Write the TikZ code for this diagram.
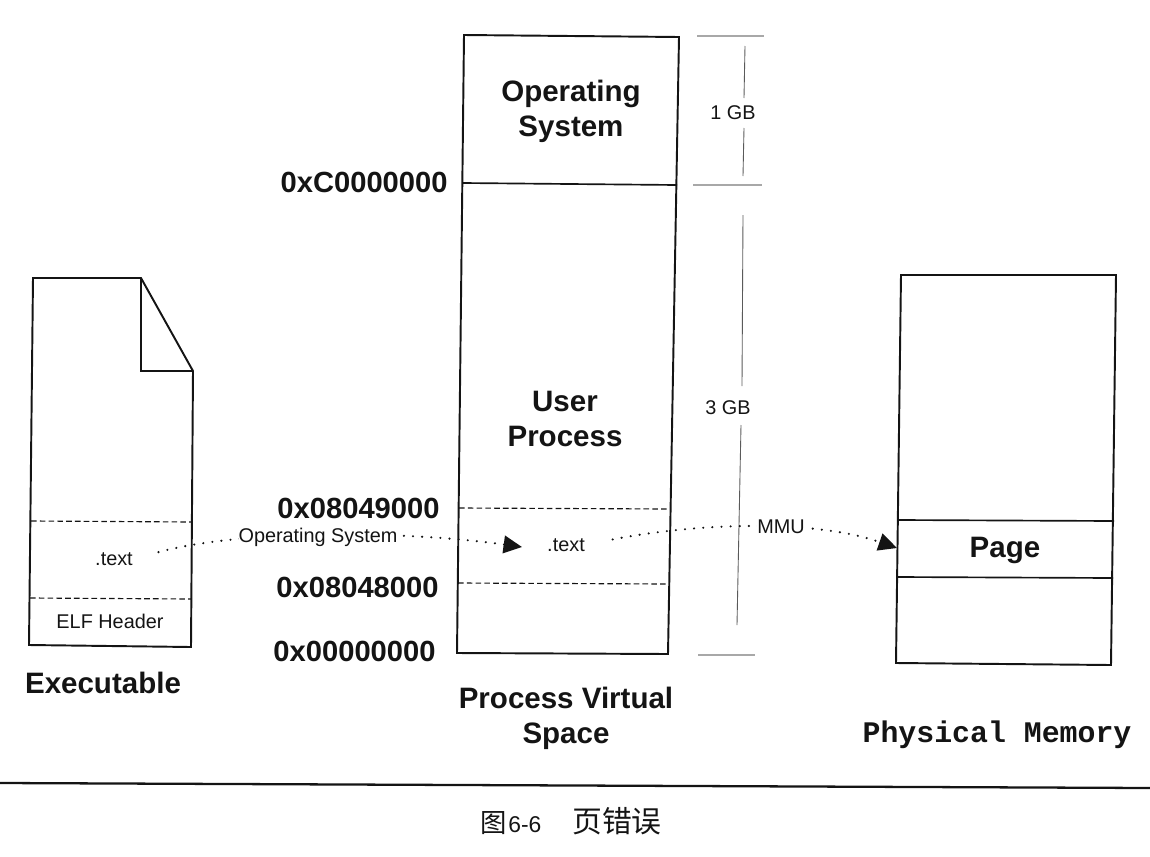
\documentclass[tikz,border=0pt]{standalone}
\usepackage{fontspec}
\setmainfont{Liberation Sans}
\newfontfamily\pfcjk{Noto Sans CJK SC}
\newfontfamily\pfmono{Liberation Mono}
\usetikzlibrary{arrows.meta}
\usepackage{xcolor}
\definecolor{pfInk}{HTML}{141414}
\definecolor{pfRule}{HTML}{5A5A5A}
\definecolor{pfTick}{HTML}{A8A8A8}

\begin{document}
\begin{tikzpicture}[x=0.02cm, y=-0.02cm, pfInk,
  frm/.style={draw=pfInk, line width=1.1pt, line join=miter},
  sep/.style={draw=pfInk, line width=0.95pt},
  dsh/.style={draw=pfInk, line width=0.65pt, dash pattern=on 3.2pt off 1.8pt},
  tick/.style={draw=pfTick, line width=0.6pt},
  scl/.style={draw=pfRule, line width=0.5pt},
  dotarr/.style={draw=pfInk, line width=1.35pt, line cap=round, dash pattern=on 0pt off 5.2pt,
    -{Triangle[length=10.5pt, width=10pt, fill=pfInk]}},
  big/.style={font=\fontsize{16.8pt}{20pt}\selectfont\bfseries, align=center, inner sep=0pt},
  adr/.style={font=\fontsize{16.6pt}{20pt}\selectfont\bfseries, anchor=east, inner sep=0pt},
  sml/.style={font=\fontsize{11.3pt}{13pt}\selectfont, inner sep=0pt},
  lbl/.style={sml, fill=white, inner xsep=0pt, inner ysep=1pt}]
\useasboundingbox (0,0) rectangle (1150,856);

% ── Executable ──
\draw[frm] (33,278) -- (141,278) -- (193,371) -- (191,647) -- (29,645) -- cycle;
\draw[frm] (141,278) -- (141,371) -- (193,371);
\draw[dsh] (31,521) -- (192,522);
\draw[dsh] (30,598) -- (191,599);
\node[sml] (exectext) at (114,559) {.text};
\node[sml] (elfhdr) at (110,621) {ELF Header};
\node[big] (execname) at (103,683) {Executable};

% ── Process Virtual Space ──
\draw[frm] (464,35) -- (679,37) -- (668,654) -- (457,653) -- cycle;
\draw[sep] (463,183) -- (677,185);
\draw[dsh] (459,508) -- (668,509);
\draw[dsh] (458,583) -- (667,584);
\node[big, text width=200pt] (osbox) at (571,111) {Operating\\System};
\node[big] (userbox) at (565,419) {User\\Process};
\node[sml] (vmtext) at (566,545) {.text};
\node[big] (vmname) at (566,718) {Process Virtual\\Space};
\node[adr] (adrtop) at (448,182) {0xC0000000};
\node[adr] (adrhi) at (440,508) {0x08049000};
\node[adr] (adrlo) at (439,587) {0x08048000};
\node[adr] (adrnul) at (436,651) {0x00000000};

% ── 1 GB / 3 GB scale ──
\draw[tick] (697,36) -- (764,36);
\draw[tick] (693,185) -- (762,185);
\draw[tick] (698,655) -- (755,655);
\node[sml] (gbone) at (733,113) {1 GB};
\node[sml] (gbthree) at (728,408) {3 GB};
\draw[scl] (745,46) -- (744,98);
\draw[scl] (744,128) -- (743,176);
\draw[scl] (743,215) -- (742,386);
\draw[scl] (741,425) -- (737,625);

% ── Physical Memory ──
\draw[frm] (901,275) -- (1116,275) -- (1111,665) -- (896,663) -- cycle;
\draw[sep] (899,520) -- (1114,521);
\draw[sep] (898,577) -- (1113,578);
\node[big] (pagebox) at (1005,550) {Page};
\node[font=\pfmono\fontsize{17pt}{20pt}\selectfont\bfseries, inner sep=0pt] (physname) at (997,735) {Physical Memory};

% ── dotted mappings ──
\coordinate (vmtip) at (522,547);
\coordinate (pagetip) at (897,548);
\draw[dotarr, shorten <=15pt] (exectext.east) .. controls (240,530) and (400,530) .. (vmtip);
\draw[dotarr, shorten <=16pt] (vmtext.east) .. controls (690,524) and (810,518) .. (pagetip);
\node[lbl] (oslabel) at (318,537) {Operating System};
\node[lbl] (mmulabel) at (781,527) {MMU};

% ── caption ──
\draw[draw=pfInk, line width=1.3pt] (0,783) -- (1150,788);
\node[inner sep=0pt] (capt) at (571,821) {\fontsize{15pt}{18pt}\selectfont{\pfcjk 图}\hspace{1pt}{\fontsize{13pt}{18pt}\selectfont 6-6}\hspace{17.5pt}{\pfcjk\fontsize{17pt}{18pt}\selectfont 页错误}};
\end{tikzpicture}
\end{document}
